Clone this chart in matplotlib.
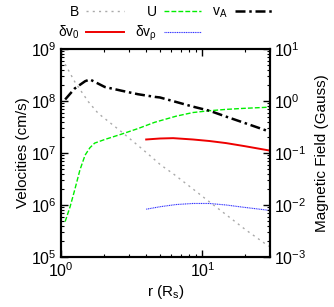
import matplotlib
matplotlib.use("Agg")
import matplotlib.pyplot as plt
from matplotlib.ticker import LogLocator, NullFormatter

plt.rcParams['font.family'] = ['Liberation Sans', 'DejaVu Sans']
plt.rcParams['mathtext.fontset'] = 'custom'
plt.rcParams['mathtext.rm'] = 'Liberation Sans'
plt.rcParams['mathtext.it'] = 'Liberation Sans:italic'
plt.rcParams['mathtext.default'] = 'regular'

# ---- data ----
r_vA = [1.07, 1.25, 1.48, 1.6, 2.04, 2.67, 3.5, 4.6, 5.0, 8.55, 11.2, 14.7, 19.2, 29.5]
vA = [1.07e8, 1.74e8, 2.4e8, 2.6e8, 1.86e8, 1.58e8, 1.35e8, 1.2e8, 1.17e8,
      7.8e7, 6.5e7, 5.0e7, 3.9e7, 2.6e7]

r_U = [1.07, 1.16, 1.25, 1.36, 1.48, 1.6, 1.73, 2.04, 2.67, 3.5, 4.6, 6.5, 8.55,
       11.2, 14.7, 19.2, 29.5]
U = [4.8e5, 9.3e5, 1.95e6, 4.7e6, 9.1e6, 1.26e7, 1.55e7, 1.82e7, 2.3e7, 2.95e7,
     3.9e7, 5.1e7, 6.0e7, 6.5e7, 6.9e7, 7.2e7, 7.6e7]

r_B = [1.07, 1.25, 1.56, 1.83, 2.67, 3.7, 4.6, 5.06, 6.2, 8.55, 10.6, 14.7, 20.3, 29.5]
B = [5.1, 2.35, 0.97, 0.58, 0.257, 0.123, 0.074, 0.059, 0.040, 0.0204, 0.0129,
     0.0065, 0.0033, 0.0016]

r_dv0 = [4.0, 5.0, 6.2, 8.55, 11.2, 14.7, 20.0, 29.5]
dv0 = [1.82e7, 1.9e7, 1.93e7, 1.82e7, 1.7e7, 1.55e7, 1.35e7, 1.12e7]

r_dvr = [4.0, 5.06, 6.5, 8.55, 11.2, 14.7, 19.2, 29.5]
dvr = [8.3e5, 9.3e5, 1.02e6, 1.07e6, 1.07e6, 1.0e6, 9.1e5, 7.9e5]

fig = plt.figure(figsize=(3.34, 3.07), dpi=100)
ax = fig.add_axes([61/334, 1-257/307, 209/334, 208/307])
ax2 = ax.twinx()

lU, = ax.plot(r_U, U, color='#00ee00', ls=(0, (3.5, 1.5)), lw=1.0, label='U')
lvA, = ax.plot(r_vA, vA, color='black', ls=(0, (4, 1.5, 1, 1.5)), lw=1.8, label='v$_A$')
ldv0, = ax.plot(r_dv0, dv0, color='#ee0000', ls='-', lw=1.4, label='δv$_0$')
ldvr, = ax.plot(r_dvr, dvr, color='#3333ff', ls=(0, (1, 0.6)), lw=0.8, label='δv$_ρ$')
lB, = ax2.plot(r_B, B, color='#aaaaaa', ls=(0, (1.5, 3)), lw=1.0, label='B')

ax.set_xscale('log')
ax.set_yscale('log')
ax2.set_yscale('log')
ax.set_xlim(1, 30)
ax.set_ylim(1e5, 1e9)
ax2.set_ylim(1e-3, 1e1)

for a in (ax, ax2):
    a.yaxis.set_major_locator(LogLocator(base=10, numticks=10))
    a.yaxis.set_minor_locator(LogLocator(base=10, subs=range(2, 10), numticks=20))
    a.yaxis.set_minor_formatter(NullFormatter())
    for s in a.spines.values():
        s.set_linewidth(1.5)
ax.xaxis.set_minor_formatter(NullFormatter())
ax.tick_params(which='both', direction='in', top=True, labelsize=11.5, pad=3)
ax.tick_params(which='major', length=5, width=1)
ax.tick_params(which='minor', length=2.5, width=0.8)
ax.tick_params(axis='y', which='both', right=False)
ax2.tick_params(which='both', direction='in', labelsize=11.5, pad=3)
ax2.tick_params(which='major', length=5, width=1)
ax2.tick_params(which='minor', length=2.5, width=0.8)

ax.set_xlabel('r (R$_s$)', fontsize=11, labelpad=2)
ax.set_ylabel('Velocities (cm/s)', fontsize=11, labelpad=1)
ax2.set_ylabel('Magnetic Field (Gauss)', fontsize=11, labelpad=6)

handles = [lB, ldv0, lU, ldvr, lvA]
fig.legend(handles=handles, labels=[h.get_label() for h in handles], ncol=3,
           loc='center', bbox_to_anchor=(165/334, 1-24/307), frameon=False,
           markerfirst=False, fontsize=10, handlelength=2.7, handletextpad=0.5,
           columnspacing=0.8, labelspacing=0.35, borderpad=0)

fig.savefig('out.png', dpi=100)
